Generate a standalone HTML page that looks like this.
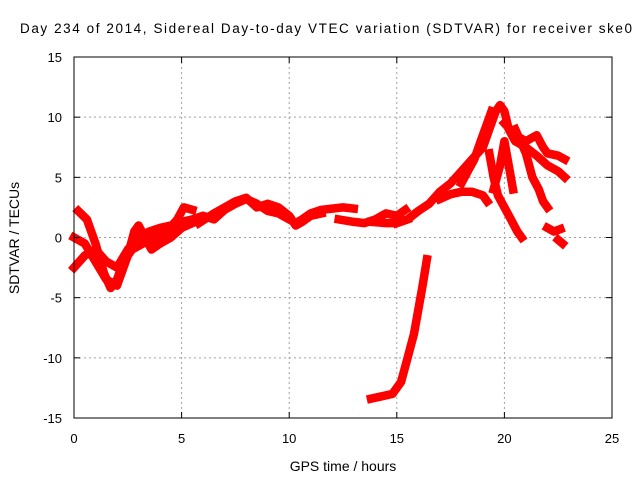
<!DOCTYPE html>
<html><head><meta charset="utf-8"><style>
html,body{margin:0;padding:0;background:#fff;}
svg{display:block;font-family:"Liberation Sans",Arial,sans-serif;}
</style></head><body>
<svg id="chart" width="640" height="480" viewBox="0 0 640 480">
<rect x="0" y="0" width="640" height="480" fill="#fff"/>
<text x="326" y="33" text-anchor="middle" font-size="13.5" textLength="612">Day 234 of 2014, Sidereal Day-to-day VTEC variation (SDTVAR) for receiver ske0</text>
<g id="grid"></g>
<g id="series"></g>
<rect x="74" y="57" width="538" height="361" fill="none" stroke="#000" stroke-width="1"/>
<g id="axes"></g>
<text x="343" y="471" text-anchor="middle" font-size="14">GPS time / hours</text>
<text transform="translate(19,238) rotate(-90)" text-anchor="middle" font-size="14">SDTVAR / TECUs</text>
</svg>
<script>
const xTicks=[0,5,10,15,20,25];
const yTicks=[-15,-10,-5,0,5,10,15];
const trackA=[[0.2,2.2],[0.6,1.5],[1.0,-0.5],[1.4,-3],[1.7,-4.2],[2.0,-3.5],[2.3,-2],[2.7,-1],[3.2,-0.5],[3.8,0],[4.3,0.5],[4.8,1.5],[5.1,2.5],[5.5,2.3]];
const trackB=[[0,-2.5],[0.5,-1.5],[1,-1],[1.5,-2],[2,-2.5],[2.5,-1],[3,0],[3.5,0.5],[4,0.8],[4.5,1],[5,1.3],[5.5,1.5],[6,1.8],[6.5,1.5],[7,2.3],[7.5,2.8],[8,3.2],[8.5,2.8],[9,2.2],[9.5,2.0],[10,1.5],[10.3,1.2],[10.6,1.5],[11,2.0],[11.5,2.3],[12,2.4],[12.5,2.5],[13,2.4]];
const trackC=[[0,0],[0.5,-0.5],[1,-2],[1.5,-3.5],[2,-4],[2.2,-3],[2.5,-1.5],[2.8,0.5],[3,1],[3.3,0],[3.6,-1],[4,-0.5],[4.5,0],[5,0.8],[5.5,1.2]];
const trackD=[[5.8,1.2],[6.5,2],[7,2.5],[7.5,3],[8,3.3],[8.5,2.5],[9,2.8],[9.5,2.5],[10,1.8],[10.3,1.0],[10.6,1.3],[11,1.8],[11.5,2.0]];
const trackE=[[12.3,1.5],[13,1.3],[13.5,1.2],[14,1.5],[14.5,2.0],[15,1.8],[15.4,2.3]];
const trackF=[[13.8,1.3],[14.5,1.2],[15,1.2],[15.5,1.5]];
const trackG=[[15,1.2],[15.5,1.5],[16,2.2],[16.5,2.8],[17,3.8],[17.5,4.5],[18,5.5],[18.5,6.5],[19,7.5],[19.3,9],[19.6,10.5],[19.8,11],[20,10.5],[20.2,9],[20.5,8],[21,7.5],[21.5,6.8],[22,6],[22.5,5.5],[22.8,5]];
const trackH=[[17,3.2],[17.5,3.6],[18,3.8],[18.5,3.8],[19,3.5],[19.2,3]];
const trackI=[[18,4.5],[18.3,5.5],[18.6,6.5],[18.9,8],[19.2,9.5],[19.4,10.5]];
const trackJ=[[19.3,7],[19.5,5],[19.7,3.5],[20,2.5],[20.3,1.5],[20.6,0.5],[20.8,0]];
const trackK=[[20,9.5],[20.5,8.5],[21,8],[21.5,8.5],[21.8,7.5],[22,7],[22.5,6.8],[22.8,6.5]];
const trackL=[[20.5,9],[21,7],[21.3,5],[21.6,4],[21.8,3],[22,2.5]];
const trackM=[[22,0.8],[22.3,0.5],[22.6,0.7]];
const trackM2=[[22.5,-0.2],[22.7,-0.5]];
const trackN=[[13.8,-13.4],[14.3,-13.2],[14.8,-13],[15.2,-12],[15.5,-10],[15.8,-8],[16,-6],[16.2,-4],[16.4,-1.8]];
const trackO=[[19.5,4],[19.8,6],[20,8],[20.2,6],[20.4,4]];
const tracks=[trackA,trackB,trackC,trackD,trackE,trackF,trackG,trackH,trackI,trackJ,trackK,trackL,trackM,trackM2,trackN,trackO];

const X0=74,X1=612,Y0=418,Y1=57;
function xs(h){return X0+(h-0)/25*(X1-X0);}
function ys(v){return Y0-(v+15)/30*(Y0-Y1);}
const NS="http://www.w3.org/2000/svg";
const grid=document.getElementById('grid'),axes=document.getElementById('axes'),ser=document.getElementById('series');
function mk(tag,attrs,parent){const e=document.createElementNS(NS,tag);for(const k in attrs)e.setAttribute(k,attrs[k]);parent.appendChild(e);return e;}
xTicks.forEach(t=>{
  const x=xs(t);
  if(t>0&&t<25){const g=mk('line',{x1:x,x2:x,y1:Y1,y2:Y0,stroke:'#a0a0a0','stroke-dasharray':'2,3'},grid);
  
  }
  const tk=mk('line',{x1:x,x2:x,y1:Y0,y2:Y0-6,stroke:'#000'},axes);
  
  
  const tk2=mk('line',{x1:x,x2:x,y1:Y1,y2:Y1+6,stroke:'#000'},axes);
  
  
  const l=mk('text',{x:x,y:443,'text-anchor':'middle','font-size':'13'},axes);l.textContent=t;
  
  
});
yTicks.forEach(t=>{
  const y=ys(t);
  if(t>-15&&t<15){const g=mk('line',{x1:X0,x2:X1,y1:y,y2:y,stroke:'#a0a0a0','stroke-dasharray':'2,3'},grid);
  
  }
  const tk=mk('line',{x1:X0,x2:X0+6,y1:y,y2:y,stroke:'#000'},axes);
  
  
  const tk2=mk('line',{x1:X1,x2:X1-6,y1:y,y2:y,stroke:'#000'},axes);
  
  
  const l=mk('text',{x:62,y:y+5,'text-anchor':'end','font-size':'13'},axes);l.textContent=t;
  
  
});
tracks.forEach((tr,i)=>{
  const p=mk('polyline',{points:tr.map(d=>xs(d[0]).toFixed(1)+','+ys(d[1]).toFixed(1)).join(' '),fill:'none',stroke:'#ff0000','stroke-width':'8.5','stroke-linejoin':'round','stroke-linecap':'square'},ser);
  
  
});
</script>
</body></html>
